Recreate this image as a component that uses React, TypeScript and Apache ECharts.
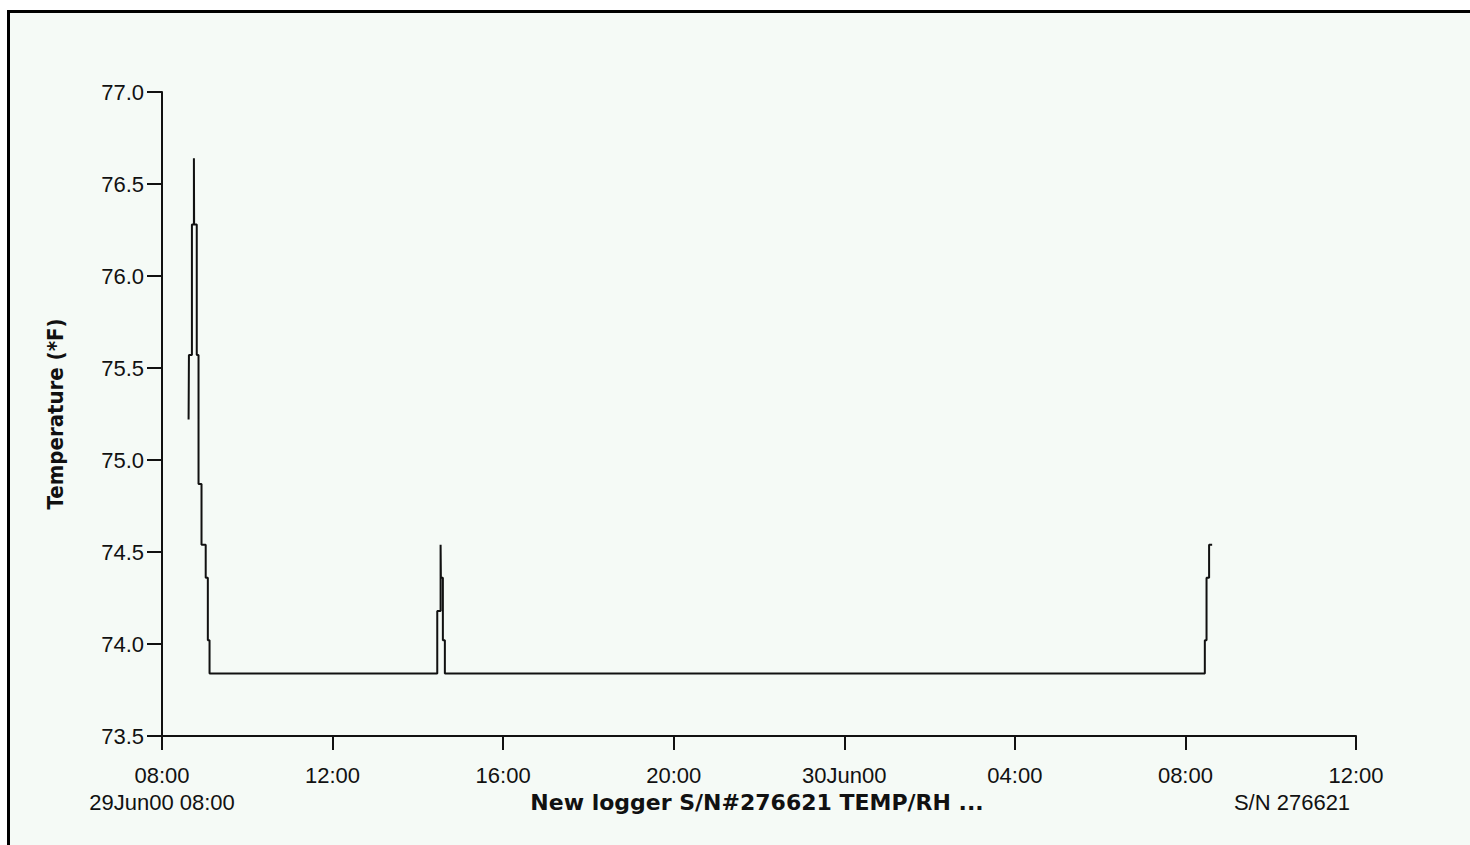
import React, { useEffect, useRef } from "react";
import * as echarts from "echarts";

// Tick labels of the time axis (hours since 29Jun00 08:00, every 4 h)
const xTickLabels = ["08:00", "12:00", "16:00", "20:00", "30Jun00", "04:00", "08:00", "12:00"];
const startLabel = "29Jun00 08:00";
const chartTitle = "New logger S/N#276621 TEMP/RH ...";
const serialLabel = "S/N 276621";
const yTitle = "Temperature (*F)";

// Logger readings: minutes since 29Jun00 08:00 and temperature (°F) at each change
const minutesSinceStart = [
  37.4, 37.9, 42.1, 44.9, 45.2, 48.9, 51.4, 55.6, 61.5, 64.5, 66.9,
  387.3, 392.0, 392.4, 395.2, 398.0,
  1467.3, 1469.7, 1473.3, 1477.6,
];
const temperatures = [
  75.22, 75.57, 76.28, 76.64, 76.28, 75.57, 74.87, 74.54, 74.36, 74.02, 73.84,
  74.18, 74.54, 74.36, 74.02, 73.84,
  74.02, 74.36, 74.54, 74.54,
];

const yMin = 73.5;
const yMax = 77.0;
const yStep = 0.5;
const xMinHours = 0;
const xMaxHours = 28;
const xStepHours = 4;

const INK = "#111111";
const LABEL_FONT = "'Liberation Sans', Arial, sans-serif";
const BOLD_FONT = "'DejaVu Sans', sans-serif";

export default function App() {
  const ref = useRef<HTMLDivElement>(null);

  useEffect(() => {
    if (!ref.current) return;
    const chart = echarts.init(ref.current, undefined, { renderer: "svg" });
    const data = minutesSinceStart.map((m, i) => [m / 60, temperatures[i]]);

    chart.setOption({
      animation: false,
      backgroundColor: "transparent",
      grid: { left: 162, right: 114, top: 92, bottom: 109, containLabel: false },
      xAxis: {
        type: "value",
        min: xMinHours,
        max: xMaxHours,
        interval: xStepHours,
        splitLine: { show: false },
        axisLine: { show: true, onZero: false, lineStyle: { color: INK, width: 2 } },
        axisTick: { show: true, length: 14, lineStyle: { color: INK, width: 2 } },
        axisLabel: {
          margin: 28,
          fontFamily: LABEL_FONT,
          fontSize: 22,
          color: INK,
          formatter: (v: number) => xTickLabels[Math.round((v - xMinHours) / xStepHours)] ?? "",
        },
      },
      yAxis: {
        type: "value",
        min: yMin,
        max: yMax,
        interval: yStep,
        splitLine: { show: false },
        axisLine: { show: true, onZero: false, lineStyle: { color: INK, width: 2 } },
        axisTick: { show: true, length: 15, lineStyle: { color: INK, width: 2 } },
        axisLabel: {
          margin: 18,
          fontFamily: LABEL_FONT,
          fontSize: 22,
          color: INK,
          formatter: (v: number) => v.toFixed(1),
        },
      },
      series: [
        {
          type: "line",
          step: "end",
          data,
          showSymbol: false,
          symbol: "none",
          lineStyle: { color: INK, width: 2 },
          silent: true,
        },
      ],
      graphic: [
        {
          type: "text",
          x: 56,
          y: 414,
          rotation: Math.PI / 2,
          scaleX: 0.9,
          style: {
            text: yTitle,
            fontFamily: BOLD_FONT,
            fontWeight: "bold",
            fontSize: 22,
            fill: INK,
            align: "center",
            verticalAlign: "middle",
          },
        },
        {
          type: "text",
          x: 162,
          y: 802,
          style: {
            text: startLabel,
            fontFamily: LABEL_FONT,
            fontSize: 22,
            fill: INK,
            align: "center",
            verticalAlign: "middle",
          },
        },
        {
          type: "text",
          x: 757,
          y: 802,
          style: {
            text: chartTitle,
            fontFamily: BOLD_FONT,
            fontWeight: "bold",
            fontSize: 22,
            fill: INK,
            align: "center",
            verticalAlign: "middle",
          },
        },
        {
          type: "text",
          x: 1292,
          y: 802,
          style: {
            text: serialLabel,
            fontFamily: LABEL_FONT,
            fontSize: 22,
            fill: INK,
            align: "center",
            verticalAlign: "middle",
          },
        },
      ],
    });

    return () => chart.dispose();
  }, []);

  return (
    <div
      style={{
        position: "fixed",
        left: 0,
        top: 0,
        width: 1470,
        height: 845,
        background: "#ffffff",
        overflow: "hidden",
      }}
    >
      <div
        style={{
          position: "absolute",
          left: 7,
          top: 10,
          right: 0,
          bottom: 0,
          background: "#f5faf6",
          borderLeft: "3px solid #000",
          borderTop: "3px solid #000",
        }}
      />
      <div ref={ref} style={{ position: "absolute", left: 0, top: 0, width: 1470, height: 845 }} />
    </div>
  );
}
